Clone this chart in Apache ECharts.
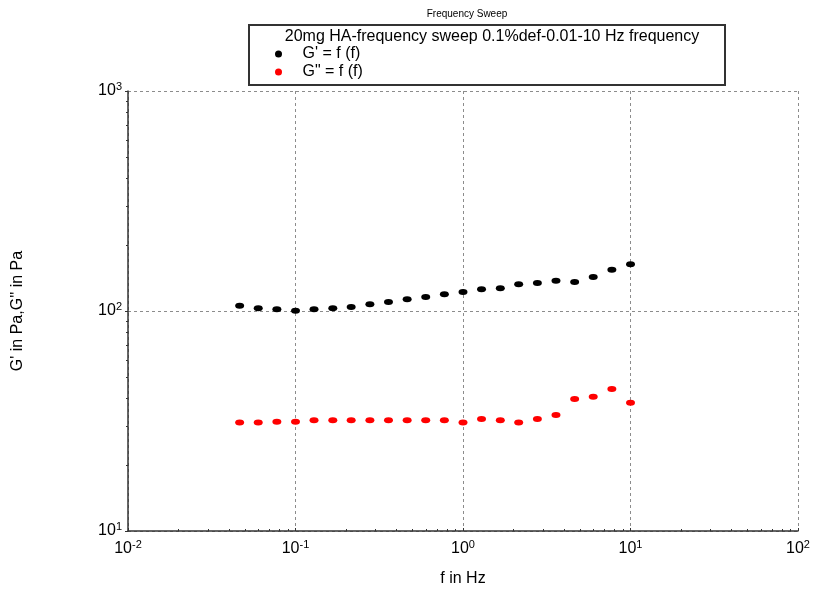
<!DOCTYPE html>
<html>
<head>
    <meta charset="UTF-8">
    <title>Frequency Sweep</title>
    <script type="text/javascript" src="https://cdn.jsdelivr.net/npm/echarts@6/dist/echarts.min.js"></script>
    <style>
        body { margin: 0; background: #fff; }
    </style>
</head>
<body>

<div id="main" style="width: 819px; height: 594px;"></div>
<script type="text/javascript">

    // frequency (Hz)
    var freq = [0.0464, 0.0599, 0.0774, 0.1, 0.129, 0.167, 0.215, 0.278, 0.359, 0.464, 0.599,
        0.774, 1, 1.29, 1.67, 2.15, 2.78, 3.59, 4.64, 5.99, 7.74, 10];
    // G' (Pa)
    var gStorage = [105.7, 102.9, 101.8, 100.3, 101.8, 102.9, 104.3, 107.3, 109.9, 113.0, 115.8,
        119.1, 122.0, 125.5, 126.9, 132.2, 134.1, 137.3, 135.5, 142.7, 154.1, 163.1];
    // G'' (Pa)
    var gLoss = [31.1, 31.1, 31.4, 31.4, 31.9, 31.9, 31.9, 31.9, 31.9, 31.9, 31.9,
        31.9, 31.1, 32.3, 31.9, 31.1, 32.3, 33.7, 39.8, 40.8, 44.2, 38.3];

    // axis ranges and minor tick positions
    var xRange = [0.01, 100];
    var yRange = [10, 1000];
    var xMinor = [0.01, 0.02, 0.03, 0.04, 0.05, 0.06, 0.07, 0.08, 0.09,
        0.1, 0.2, 0.3, 0.4, 0.5, 0.6, 0.7, 0.8, 0.9,
        1, 2, 3, 4, 5, 6, 7, 8, 9,
        10, 20, 30, 40, 50, 60, 70, 80, 90, 100];
    var yMinor = [10, 20, 30, 40, 50, 60, 70, 80, 90,
        100, 200, 300, 400, 500, 600, 700, 800, 900, 1000];

    var seriesNames = ["G' = f (f)", "G\" = f (f)"];
    var legendTitle = '20mg HA-frequency sweep 0.1%def-0.01-10 Hz frequency';

    function pair(xs, ys) {
        var out = [];
        for (var i = 0; i < xs.length; i++) out.push([xs[i], ys[i]]);
        return out;
    }

    function powLabel(v) {
        var e = Math.round(Math.log(v) / Math.LN10);
        return '{b|10}{s|' + e + '}';
    }

    var labelRich = {
        b: { fontFamily: 'Liberation Sans', fontSize: 16, color: '#000' },
        s: { fontFamily: 'Liberation Sans', fontSize: 11, color: '#000', verticalAlign: 'top', padding: [0, 0, 8, 0] }
    };

    var dashLine = { show: true, lineStyle: { color: '#8c8c8c', type: [3, 3], width: 1 } };
    var nameStyle = { fontFamily: 'Liberation Sans', fontSize: 16, color: '#000' };

    var myChart = echarts.init(document.getElementById('main'));

    var option = {
        backgroundColor: '#fff',
        animation: false,
        title: [{
            text: 'Frequency Sweep',
            left: 462,
            top: 4,
            textAlign: 'center',
            textStyle: { fontFamily: 'Liberation Sans', fontSize: 10, fontWeight: 'normal', color: '#000' }
        }, {
            text: legendTitle,
            left: 487,
            top: 24,
            textAlign: 'center',
            textStyle: { fontFamily: 'Liberation Sans', fontSize: 16, fontWeight: 'normal', color: '#000' }
        }],
        graphic: [{
            type: 'rect',
            shape: { x: 249, y: 25, width: 476, height: 60 },
            style: { fill: 'none', stroke: '#333', lineWidth: 2 }
        }],
        legend: {
            orient: 'vertical',
            left: 270,
            top: 41,
            itemGap: 2,
            itemWidth: 10,
            itemHeight: 7,
            icon: 'circle',
            symbolKeepAspect: false,
            data: seriesNames,
            textStyle: { fontFamily: 'Liberation Sans', fontSize: 16, color: '#000', padding: [0, 0, 0, 14] }
        },
        grid: {
            left: 128,
            right: 21,
            top: 91,
            bottom: 63
        },
        xAxis: [{
            type: 'log',
            logBase: 10,
            min: xRange[0],
            max: xRange[1],
            name: 'f in Hz',
            nameLocation: 'middle',
            nameGap: 40,
            nameTextStyle: nameStyle,
            axisLine: { lineStyle: { color: '#333', width: 1.5 } },
            axisTick: { show: true, inside: true, length: 3, lineStyle: { color: '#333' } },
            axisLabel: { formatter: powLabel, rich: labelRich, margin: 8 },
            splitLine: dashLine
        }, {
            // minor ticks only
            type: 'log',
            logBase: 10,
            min: xRange[0],
            max: xRange[1],
            position: 'bottom',
            axisLine: { show: false },
            axisTick: { show: true, inside: true, length: 2, customValues: xMinor, lineStyle: { color: '#333' } },
            axisLabel: { show: false },
            splitLine: { show: false }
        }],
        yAxis: [{
            type: 'log',
            logBase: 10,
            min: yRange[0],
            max: yRange[1],
            name: 'G\' in Pa,G\'\' in Pa',
            nameLocation: 'middle',
            nameGap: 102,
            nameTextStyle: nameStyle,
            axisLine: { lineStyle: { color: '#333', width: 1.5 } },
            axisTick: { show: true, length: 3, lineStyle: { color: '#333' } },
            axisLabel: { formatter: powLabel, rich: labelRich, margin: 6 },
            splitLine: dashLine
        }, {
            // minor ticks only
            type: 'log',
            logBase: 10,
            min: yRange[0],
            max: yRange[1],
            position: 'left',
            axisLine: { show: false },
            axisTick: { show: true, length: 2, customValues: yMinor, lineStyle: { color: '#333' } },
            axisLabel: { show: false },
            splitLine: { show: false }
        }],
        series: [{
            name: seriesNames[0],
            type: 'scatter',
            symbol: 'circle',
            symbolSize: [9, 6],
            itemStyle: { color: '#000', opacity: 1 },
            data: pair(freq, gStorage)
        }, {
            name: seriesNames[1],
            type: 'scatter',
            symbol: 'circle',
            symbolSize: [9, 6],
            itemStyle: { color: '#ff0000', opacity: 1 },
            data: pair(freq, gLoss)
        }]
    };

    myChart.setOption(option);

</script>
</body>
</html>
